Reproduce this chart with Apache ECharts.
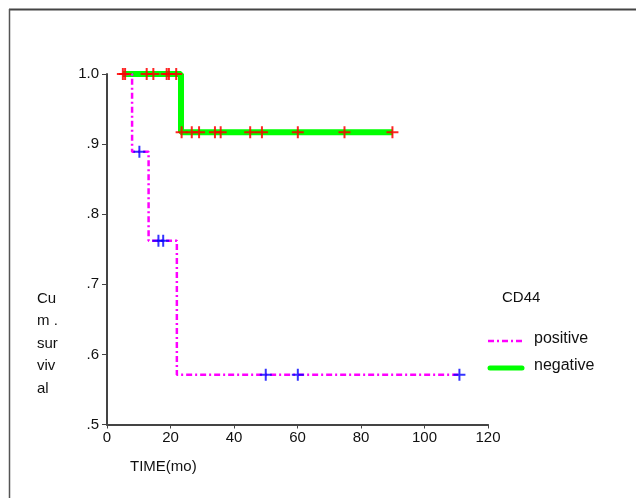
<!DOCTYPE html>
<html>
<head>
<meta charset="utf-8">
<script src="https://cdn.jsdelivr.net/npm/echarts@6/dist/echarts.min.js"></script>
<style>
  html, body { margin: 0; padding: 0; background: #fff; }
  #chart { width: 636px; height: 498px; }
</style>
</head>
<body>
<div id="chart"></div>
<script>
// Kaplan-Meier, CD44 positive vs negative
const posTimes = [5, 7.9, 13.1, 22.0, 111]
const posSurv = [1.0, 0.889, 0.762, 0.571, 0.571]
const negTimes = [5, 23.3, 90]
const negSurv = [1.0, 0.917, 0.917]

// censored cases
const posCensT = [10.2, 16.2, 17.7, 50.0, 60.1, 111]
const posCensS = [0.889, 0.762, 0.762, 0.571, 0.571, 0.571]
const negCensT = [5.0, 5.7, 12.5, 14.6, 18.8, 19.5, 21.8, 23.5, 26.7, 29.0, 34.0, 35.8, 45.1, 48.8, 60.1, 74.8, 89.9]
const negCensS = [1, 1, 1, 1, 1, 1, 1, 0.917, 0.917, 0.917, 0.917, 0.917, 0.917, 0.917, 0.917, 0.917, 0.917]

const yLabelLines = ['Cu', 'm .', 'sur', 'viv', 'al']
const legendNames = ['positive', 'negative']

const FONT = '"Liberation Sans", Arial, sans-serif'
const PLUS = 'path://M5,0h2v5h5v2h-5v5h-2v-5h-5v-2h5z'
const POS_STYLE = { color: '#ff00ff', width: 2.5, type: [6, 3, 2, 3] }
const NEG_STYLE = { color: '#00ff00', width: 6 }

const zip = (a, b) => a.map((v, i) => [v, b[i]])

const chart = echarts.init(document.getElementById('chart'))
chart.setOption({
  animation: false,
  textStyle: { fontFamily: FONT },
  grid: { left: 107, right: 148, top: 74, bottom: 73.5 },
  xAxis: {
    type: 'value', min: 0, max: 120, interval: 20,
    axisLine: { lineStyle: { color: '#444', width: 2 } },
    axisTick: { show: true, length: 4, lineStyle: { color: '#444' } },
    axisLabel: { color: '#111', fontSize: 15, margin: 6 },
    splitLine: { show: false },
  },
  yAxis: {
    type: 'value', min: 0.5, max: 1.0, interval: 0.1,
    axisLine: { show: true, lineStyle: { color: '#444', width: 2 } },
    axisTick: { show: true, length: 5, lineStyle: { color: '#444' } },
    axisLabel: {
      color: '#111', fontSize: 15, margin: 8,
      formatter: (v) => (v >= 0.999 ? '1.0' : '.' + Math.round(v * 10)),
    },
    splitLine: { show: false },
  },
  graphic: [
    // outer frame (top + left only)
    { type: 'line', shape: { x1: 9, y1: 9.5, x2: 636, y2: 9.5 }, style: { stroke: '#444', lineWidth: 2 } },
    { type: 'line', shape: { x1: 9.5, y1: 9, x2: 9.5, y2: 498 }, style: { stroke: '#555', lineWidth: 1.5 } },
    { type: 'text', left: 502, top: 290, style: { text: 'CD44', font: '15px ' + FONT, fill: '#111' } },
    { type: 'text', left: 130, top: 459, style: { text: 'TIME(mo)', font: '15px ' + FONT, fill: '#111' } },
    ...yLabelLines.map((t, i) => ({
      type: 'text', left: 37, top: 291 + i * 22.5,
      style: { text: t, font: '15px ' + FONT, fill: '#111' },
    })),
    // legend
    { type: 'line', shape: { x1: 488, y1: 341, x2: 523, y2: 341 },
      style: { stroke: POS_STYLE.color, lineWidth: 2.5, lineDash: POS_STYLE.type } },
    { type: 'line', shape: { x1: 490, y1: 368, x2: 522, y2: 368 },
      style: { stroke: NEG_STYLE.color, lineWidth: 5, lineCap: 'round' } },
    ...legendNames.map((t, i) => ({
      type: 'text', left: 534, top: 331 + i * 27,
      style: { text: t, font: '16px ' + FONT, fill: '#111' },
    })),
  ],
  series: [
    {
      name: 'positive', type: 'line', step: 'end', showSymbol: false, symbol: 'none',
      data: zip(posTimes, posSurv), lineStyle: POS_STYLE, z: 3,
    },
    {
      name: 'negative', type: 'line', step: 'end', showSymbol: false, symbol: 'none',
      data: zip(negTimes, negSurv), lineStyle: NEG_STYLE, z: 2,
    },
    {
      name: 'posCens', type: 'scatter', symbol: PLUS, symbolSize: 12,
      data: zip(posCensT, posCensS), itemStyle: { color: '#0000ff' }, z: 4,
    },
    {
      name: 'negCens', type: 'scatter', symbol: PLUS, symbolSize: 12,
      data: zip(negCensT, negCensS), itemStyle: { color: '#ff0000', opacity: 0.85 }, z: 5,
    },
  ],
})
</script>
</body>
</html>
